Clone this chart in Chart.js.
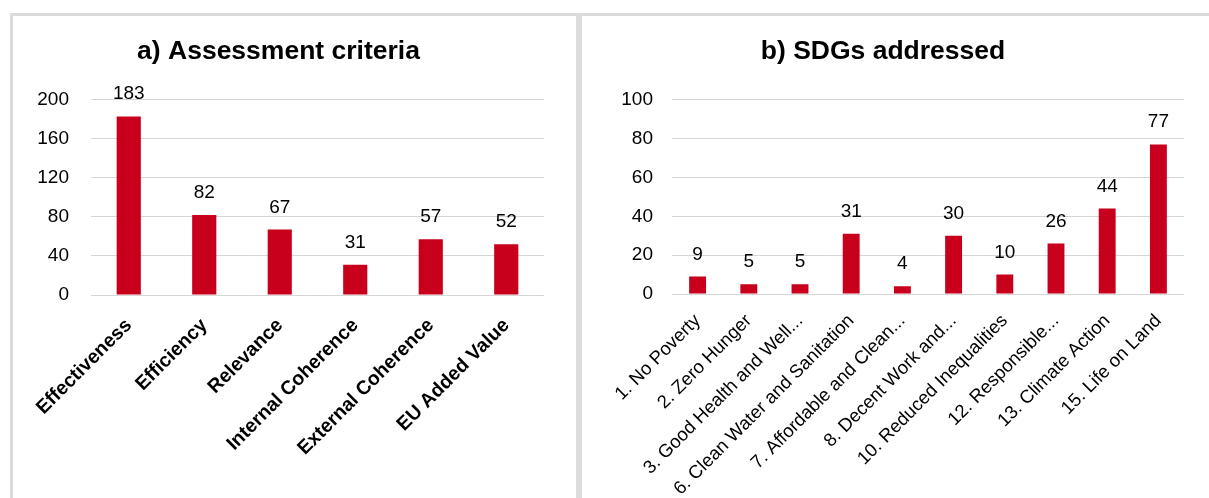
<!DOCTYPE html>
<html>
<head>
<meta charset="utf-8">
<script src="https://cdn.jsdelivr.net/npm/chart.js@4/dist/chart.umd.min.js"></script>
<style>
  html, body { margin: 0; padding: 0; background: #fff; overflow: hidden; width: 1209px; height: 498px; }
  .frame { position: absolute; left: 10px; top: 13px; width: 1260px; height: 520px;
           border-top: 3px solid #dadada; border-left: 3px solid #dadada; }
  .divider { position: absolute; left: 576px; top: 13px; width: 6px; height: 500px; background: #dcdcdc; }
  .box { position: absolute; top: 16px; height: 482px; }
  #boxA { left: 13px; width: 563px; }
  #boxB { left: 582px; width: 642px; }
</style>
</head>
<body>
<div class="frame"></div>
<div class="divider"></div>
<div class="box" id="boxA"><canvas id="chartA"></canvas></div>
<div class="box" id="boxB"><canvas id="chartB"></canvas></div>
<script>
// a) assessment criteria
const criteriaLabels = ['Effectiveness', 'Efficiency', 'Relevance', 'Internal Coherence', 'External Coherence', 'EU Added Value'];
const criteriaValues = [183, 82, 67, 31, 57, 52];

// b) SDGs
const sdgLabels = ['1. No Poverty', '2. Zero Hunger', '3. Good Health and Well...', '6. Clean Water and Sanitation',
  '7. Affordable and Clean...', '8. Decent Work and...', '10. Reduced Inequalities', '12. Responsible...',
  '13. Climate Action', '15. Life on Land'];
const sdgValues = [9, 5, 5, 31, 4, 30, 10, 26, 44, 77];

const barColor = '#c8001c';
const gridColor = '#d6d6d6';
const sans = "'Liberation Sans', Arial, sans-serif";

// numbers above the bars
const valueLabels = {
    id: 'valueLabels',
    afterDatasetsDraw(chart) {
        const ctx = chart.ctx;
        const meta = chart.getDatasetMeta(0);
        const values = chart.data.datasets[0].data;
        ctx.save();
        ctx.font = '19px ' + sans;
        ctx.fillStyle = '#000';
        ctx.textAlign = 'center';
        ctx.textBaseline = 'alphabetic';
        meta.data.forEach((bar, i) => {
            ctx.fillText(values[i], bar.x, bar.y - 17);
        });
        ctx.restore();
    }
};

function makeChart(id, title, labels, values, yMax, yStep, opts) {
    const ctx = document.getElementById(id).getContext('2d');
    return new Chart(ctx, {
        type: 'bar',
        data: {
            labels: labels,
            datasets: [{
                data: values,
                backgroundColor: barColor,
                borderWidth: 0,
                barPercentage: opts.barPct,
                categoryPercentage: 1
            }]
        },
        options: {
            responsive: true,
            maintainAspectRatio: false,
            animation: false,
            layout: { padding: { left: 0, right: opts.padRight, top: 0, bottom: 0 } },
            plugins: {
                legend: { display: false },
                tooltip: { enabled: false },
                title: {
                    display: true,
                    text: title,
                    color: '#000',
                    font: { family: sans, size: 26.5, weight: 'bold', lineHeight: 1.2 },
                    padding: { top: 20, bottom: 32 }
                }
            },
            scales: {
                x: {
                    grid: { display: false },
                    border: { display: false },
                    ticks: {
                        color: '#000',
                        autoSkip: false,
                        minRotation: 45,
                        maxRotation: 45,
                        padding: opts.xPad,
                        font: { family: sans, size: opts.xSize, weight: opts.xWeight }
                    },
                    afterFit: (scale) => { scale.height = opts.xHeight; }
                },
                y: {
                    min: 0,
                    max: yMax,
                    border: { display: false },
                    grid: { color: gridColor, lineWidth: 1, drawTicks: false },
                    ticks: {
                        stepSize: yStep,
                        color: '#000',
                        padding: opts.yPad,
                        font: { family: sans, size: 19 }
                    },
                    afterFit: (scale) => { scale.width = opts.yWidth; }
                }
            }
        },
        plugins: [valueLabels]
    });
}

makeChart('chartA', 'a) Assessment criteria', criteriaLabels, criteriaValues, 200, 40,
    { barPct: 0.32, padRight: 32, yWidth: 78, yPad: 22, xPad: 11, xSize: 19.5, xWeight: 'bold', xHeight: 203 });
makeChart('chartB', 'b) SDGs addressed', sdgLabels, sdgValues, 100, 20,
    { barPct: 0.33, padRight: 40, yWidth: 90, yPad: 19, xPad: 8, xSize: 18.5, xWeight: 'normal', xHeight: 204 });
</script>
</body>
</html>
